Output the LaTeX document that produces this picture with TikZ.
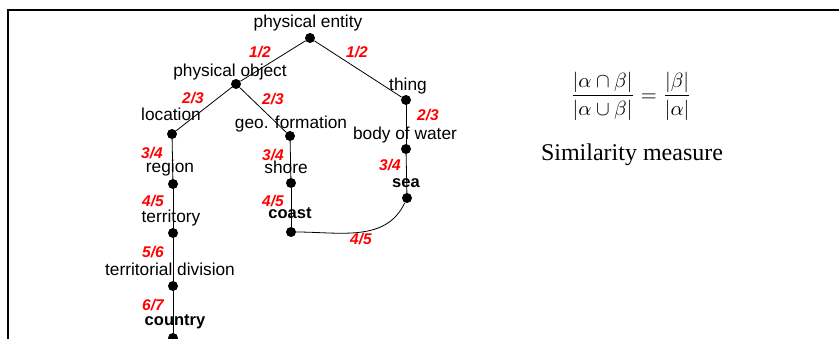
\documentclass[tikz,border=0pt]{standalone}
\usepackage{fontspec}
\newfontfamily\lblfont{Liberation Sans}
\newfontfamily\capfont{Liberation Serif}

\begin{document}
\begin{tikzpicture}[x=1pt,y=-1pt,
    dot/.style={circle,fill,inner sep=0pt,minimum size=10pt},
    lbl/.style={font=\lblfont\fontsize{17.3}{19}\selectfont,inner sep=0pt},
    key/.style={font=\lblfont\bfseries\fontsize{16.5}{19}\selectfont,inner sep=0pt},
    frc/.style={font=\lblfont\bfseries\itshape\fontsize{15.5}{17}\selectfont,text=red,inner sep=0pt},
    edge/.style={line width=0.8pt}]
    \useasboundingbox (0,0) rectangle (839,339);

    % frame
    \draw[line width=2pt] (839,10) -- (8,10) -- (8,339);

    % hierarchy nodes
    \foreach \n/\x/\y in {pe/310/38, po/236/84, th/406/100, loc/172/134,
        geo/290/136, bow/406/149, reg/173/184, sho/291/183, sea/407/198,
        ter/173/233, coa/291/232, tdiv/173/286, cty/173/338}{
        \node[dot] (\n) at (\x,\y) {};
    }

    \foreach \a/\b in {pe/po, pe/th, po/loc, po/geo, th/bow, loc/reg,
        geo/sho, bow/sea, reg/ter, sho/coa, ter/tdiv, tdiv/cty}{
        \draw[edge] (\a)--(\b);
    }
    \draw[edge] (coa) to[out=0,in=-115] (sea);

    % names
    \node[lbl] (pe-t) at (308,23) {physical entity};
    \node[lbl] (po-t) at (230,72) {physical object};
    \node[lbl] (th-t) at (408,86) {thing};
    \node[lbl] (loc-t) at (171,114) {location};
    \node[lbl] (geo-t) at (291,124) {geo. formation};
    \node[lbl] (bow-t) at (405,135) {body of water};
    \node[lbl] (reg-t) at (170,168) {region};
    \node[lbl] (sho-t) at (286,167) {shore};
    \node[key] (sea-t) at (406,183) {sea};
    \node[lbl] (ter-t) at (171,218) {territory};
    \node[key] (coa-t) at (290,213) {coast};
    \node[lbl] (tdiv-t) at (170,269) {territorial division};
    \node[key] (cty-t) at (175,322) {country};

    % similarity values
    \foreach \p/\q/\x/\y [count=\k] in {1/2/260/52, 1/2/357/52, 2/3/193/98,
        2/3/273/99, 2/3/428/115, 3/4/152/153, 3/4/273/155, 3/4/390/165,
        4/5/153/201, 4/5/273/201, 4/5/361/239, 5/6/153/252, 6/7/153/305}{
        \node[frc] (s\k) at (\x,\y) {\p/\q};
    }

    \node (simf) at (631,96) {\scalebox{2.05}{$\displaystyle
        \frac{|\alpha\cap\beta|}{|\alpha\cup\beta|}=\frac{|\beta|}{|\alpha|}$}};
    \node[font=\capfont\fontsize{24}{28}\selectfont] (simt) at (632,155)
        {Similarity measure};
\end{tikzpicture}
\end{document}
